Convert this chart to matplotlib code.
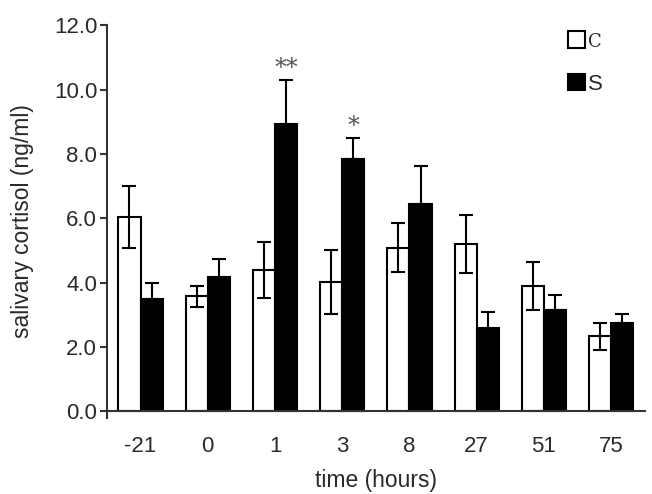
import numpy as np
import matplotlib.pyplot as plt

plt.rcParams['font.family'] = ['Liberation Sans', 'DejaVu Sans']

times = ["-21", "0", "1", "3", "8", "27", "51", "75"]
c_mean = [6.05, 3.58, 4.40, 4.03, 5.08, 5.20, 3.90, 2.33]
c_sem = [0.97, 0.33, 0.88, 1.00, 0.76, 0.90, 0.75, 0.41]
s_mean = [3.48, 4.18, 8.93, 7.84, 6.45, 2.59, 3.15, 2.74]
s_sem = [0.50, 0.56, 1.37, 0.67, 1.18, 0.49, 0.48, 0.28]
stars = {2: "**", 3: "*"}

x = np.arange(len(times))
w = 0.33
txt = "#2a2a2a"

fig = plt.figure(figsize=(6.52, 4.94), dpi=100)
ax = fig.add_axes([0.164, 0.154, 0.825, 0.795])

ax.bar(x - w/2, c_mean, w, color="white", edgecolor="black", linewidth=1.5, label="C", zorder=2)
ax.bar(x + w/2, s_mean, w, color="black", edgecolor="black", linewidth=1.5, label="S", zorder=2)
ax.errorbar(x - w/2, c_mean, yerr=c_sem, fmt="none", ecolor="black", elinewidth=1.5, capsize=5, capthick=1.5, zorder=3)
ax.errorbar(x + w/2, s_mean, yerr=[np.zeros(len(x)), s_sem], fmt="none", ecolor="black", elinewidth=1.5, capsize=5, capthick=1.5, zorder=3)

for i, s in stars.items():
    ax.text(x[i] + w/2, s_mean[i] + s_sem[i] + 0.15, s, ha="center", va="baseline",
            fontsize=17, color="#555555", family="DejaVu Serif")

ax.set_xlim(-0.5, 7.5)
ax.set_ylim(-0.2, 12)
ax.spines["top"].set_visible(False)
ax.spines["right"].set_visible(False)
ax.spines["bottom"].set_position(("data", 0))
ax.spines["left"].set_bounds(-0.2, 12)
for sp in ("left", "bottom"):
    ax.spines[sp].set_linewidth(1.5)
    ax.spines[sp].set_color("#333333")

ax.set_yticks(np.arange(0, 12.1, 2))
ax.set_yticklabels([f"{v:.1f}" for v in np.arange(0, 12.1, 2)])
ax.set_xticks(x)
ax.set_xticklabels(times)
ax.tick_params(axis="y", length=5, width=1.5, pad=2, labelsize=16, color="#333333", labelcolor=txt)
ax.tick_params(axis="x", length=0, pad=18, labelsize=16, labelcolor=txt)
ax.set_ylabel("salivary cortisol (ng/ml)", fontsize=16.5, color=txt, labelpad=14)
ax.set_xlabel("time (hours)", fontsize=16.5, color=txt, labelpad=8)

leg = ax.legend(loc="upper right", frameon=False, fontsize=16, handlelength=0.75, handleheight=0.75,
                handletextpad=0.15, labelspacing=1.0, bbox_to_anchor=(0.96, 1.035))
leg.get_texts()[0].set_family("DejaVu Serif")
leg.get_texts()[0].set_fontsize(13)
for t in leg.get_texts():
    t.set_color(txt)

fig.savefig("out.png", dpi=100)
